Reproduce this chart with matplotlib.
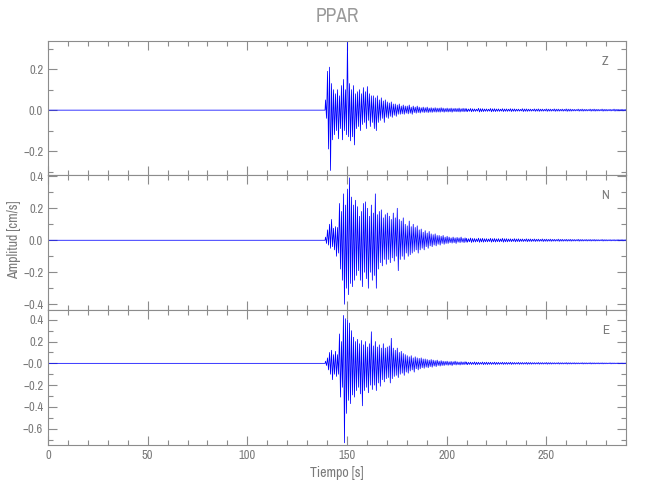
import numpy as np
import matplotlib
matplotlib.use("Agg")
import matplotlib.pyplot as plt
from matplotlib import font_manager
from matplotlib.ticker import MultipleLocator, FixedLocator

# ---------------- data (peak values per 1-s bin) -------------
title = "PPAR"
components = ["Z", "N", "E"]
t_start, t_onset, t_main_end, t_end = 0, 139, 210, 290

z_hi = [0.05, 0.19, 0.21, 0.13, 0.10, 0.08, 0.10, 0.07, 0.12, 0.15, 0.10, 0.34, 0.13, 0.10,
        0.12, 0.08, 0.09, 0.10, 0.08, 0.11, 0.09, 0.115, 0.08, 0.07, 0.07, 0.06, 0.07, 0.05,
        0.06, 0.045, 0.05, 0.04, 0.035, 0.04, 0.03, 0.03, 0.025, 0.03, 0.02, 0.025, 0.02,
        0.02, 0.025, 0.015, 0.02, 0.015, 0.02, 0.015, 0.012, 0.015, 0.012, 0.015, 0.01,
        0.012, 0.01, 0.012, 0.01, 0.01, 0.012, 0.01, 0.008, 0.01, 0.008, 0.01, 0.008, 0.009,
        0.008, 0.01, 0.007, 0.009, 0.008]
z_lo = [-0.04, -0.19, -0.295, -0.145, -0.12, -0.10, -0.14, -0.09, -0.145, -0.10, -0.12,
        -0.13, -0.15, -0.13, -0.17, -0.09, -0.08, -0.10, -0.07, -0.06, -0.09, -0.05, -0.08,
        -0.06, -0.09, -0.10, -0.06, -0.05, -0.04, -0.06, -0.035, -0.04, -0.03, -0.035,
        -0.025, -0.03, -0.02, -0.02, -0.018, -0.02, -0.015, -0.018, -0.015, -0.02, -0.012,
        -0.015, -0.012, -0.014, -0.01, -0.012, -0.01, -0.012, -0.01, -0.011, -0.009, -0.01,
        -0.009, -0.01, -0.008, -0.01, -0.008, -0.009, -0.008, -0.01, -0.007, -0.008, -0.008,
        -0.009, -0.007, -0.008, -0.007]
z_tail = [0.007, 0.008, 0.006, 0.009, 0.007, 0.006, 0.008, 0.007, 0.006, 0.007, 0.006,
          0.007, 0.006, 0.005, 0.007, 0.006, 0.005, 0.006, 0.006, 0.005, 0.006, 0.005,
          0.006, 0.005, 0.005, 0.006, 0.005, 0.004, 0.005, 0.005, 0.004, 0.005, 0.005,
          0.004, 0.005, 0.004, 0.004, 0.005, 0.004, 0.004, 0.004]

n_hi = [0.02, 0.065, 0.10, 0.13, 0.075, 0.085, 0.08, 0.23, 0.18, 0.29, 0.22, 0.32, 0.39,
        0.27, 0.22, 0.25, 0.21, 0.15, 0.18, 0.23, 0.24, 0.20, 0.15, 0.22, 0.17, 0.29, 0.16,
        0.18, 0.19, 0.14, 0.16, 0.17, 0.15, 0.13, 0.17, 0.14, 0.20, 0.13, 0.12, 0.14, 0.10,
        0.09, 0.12, 0.085, 0.10, 0.08, 0.09, 0.065, 0.07, 0.05, 0.06, 0.045, 0.055, 0.04,
        0.035, 0.04, 0.03, 0.03, 0.025, 0.03, 0.02, 0.025, 0.02, 0.015, 0.02, 0.015, 0.018,
        0.015, 0.02, 0.012, 0.015]
n_lo = [-0.02, -0.03, -0.05, -0.04, -0.06, -0.10, -0.08, -0.18, -0.25, -0.40, -0.30, -0.34,
        -0.27, -0.29, -0.25, -0.22, -0.19, -0.25, -0.29, -0.20, -0.24, -0.30, -0.20, -0.25,
        -0.22, -0.30, -0.18, -0.14, -0.16, -0.12, -0.15, -0.12, -0.14, -0.11, -0.13, -0.10,
        -0.19, -0.12, -0.10, -0.12, -0.08, -0.10, -0.09, -0.08, -0.07, -0.06, -0.08, -0.06,
        -0.05, -0.06, -0.04, -0.05, -0.035, -0.04, -0.03, -0.035, -0.025, -0.03, -0.02,
        -0.025, -0.02, -0.02, -0.015, -0.018, -0.015, -0.02, -0.012, -0.015, -0.012, -0.015,
        -0.012]
n_tail = [0.012, 0.014, 0.011, 0.013, 0.012, 0.01, 0.012, 0.011, 0.01, 0.012, 0.01, 0.009,
          0.01, 0.009, 0.008, 0.009, 0.008, 0.008, 0.007, 0.008, 0.007, 0.007, 0.006, 0.007,
          0.006, 0.006, 0.006, 0.005, 0.006, 0.005, 0.005, 0.005, 0.005, 0.004, 0.005, 0.004,
          0.004, 0.004, 0.004, 0.004, 0.004]

e_hi = [0.02, 0.05, 0.10, 0.12, 0.08, 0.11, 0.08, 0.27, 0.20, 0.44, 0.41, 0.40, 0.37, 0.30,
        0.24, 0.20, 0.22, 0.18, 0.21, 0.17, 0.20, 0.15, 0.18, 0.29, 0.16, 0.20, 0.15, 0.17,
        0.14, 0.18, 0.14, 0.15, 0.16, 0.23, 0.14, 0.12, 0.14, 0.10, 0.11, 0.09, 0.08, 0.07,
        0.06, 0.07, 0.05, 0.06, 0.05, 0.045, 0.05, 0.04, 0.04, 0.035, 0.03, 0.035, 0.03,
        0.025, 0.03, 0.02, 0.025, 0.02, 0.018, 0.02, 0.015, 0.018, 0.015, 0.02, 0.015, 0.012,
        0.015, 0.012, 0.015]
e_lo = [-0.02, -0.06, -0.10, -0.15, -0.10, -0.12, -0.10, -0.31, -0.22, -0.73, -0.46, -0.34,
        -0.37, -0.29, -0.31, -0.25, -0.22, -0.28, -0.39, -0.25, -0.22, -0.27, -0.20, -0.24,
        -0.20, -0.25, -0.18, -0.21, -0.15, -0.17, -0.14, -0.13, -0.18, -0.14, -0.12, -0.11,
        -0.13, -0.10, -0.09, -0.11, -0.08, -0.09, -0.07, -0.06, -0.08, -0.05, -0.06, -0.05,
        -0.04, -0.045, -0.035, -0.04, -0.03, -0.035, -0.025, -0.03, -0.02, -0.025, -0.02,
        -0.02, -0.015, -0.018, -0.015, -0.02, -0.012, -0.015, -0.012, -0.015, -0.012, -0.012,
        -0.01]
e_tail = [0.012, 0.011, 0.013, 0.01, 0.012, 0.011, 0.01, 0.011, 0.009, 0.01, 0.009, 0.01,
          0.008, 0.009, 0.008, 0.009, 0.008, 0.007, 0.008, 0.007, 0.008, 0.007, 0.006, 0.007,
          0.006, 0.007, 0.006, 0.006, 0.005, 0.006, 0.005, 0.006, 0.005, 0.005, 0.005, 0.004,
          0.005, 0.004, 0.004, 0.004, 0.004]

ylims = [(-0.317, 0.338), (-0.436, 0.408), (-0.75, 0.49)]
yticks = [[-0.2, 0.0, 0.2], [-0.4, -0.2, 0.0, 0.2, 0.4], [-0.6, -0.4, -0.2, 0.0, 0.2, 0.4]]
yticklabels = [["\u22120.2", "0.0", "0.2"],
               ["\u22120.4", "\u22120.2", "0.0", "0.2", "0.4"],
               ["\u22120.6", "\u22120.4", "\u22120.2", "\u22120.0", "0.2", "0.4"]]
xticks = [0, 50, 100, 150, 200, 250]
xlabel = "Tiempo [s]"
ylabel = "Amplitud [cm/s]"

# ---------------- build traces ----------------
def build_trace(hi, lo, tail):
    t, v = [t_start, t_onset], [0.0, 0.0]
    for i, (h, l) in enumerate(zip(hi, lo)):
        tt = t_onset + i
        t += [tt + 0.25, tt + 0.75]
        v += [h, l]
    for i, a in enumerate(tail):
        tt = t_main_end + 2 * i
        t += [tt, tt + 0.5, tt + 1.0, tt + 1.5]
        v += [a, -a, a * 0.8, -a * 0.8]
    return np.array(t), np.array(v)

traces = [build_trace(z_hi, z_lo, z_tail),
          build_trace(n_hi, n_lo, n_tail),
          build_trace(e_hi, e_lo, e_tail)]

# ---------------- font choice: thin / condensed if available ----------------
names = {f.name for f in font_manager.fontManager.ttflist}
cond = sorted(n for n in names if ("Narrow" in n or "Condensed" in n))
weight = "normal"
if cond:
    fam = [cond[0], "DejaVu Sans"]
elif "Roboto" in names:
    fam = ["Roboto", "DejaVu Sans"]
    weight = "light"
else:
    fam = ["DejaVu Sans"]
plt.rcParams["font.family"] = fam
plt.rcParams["font.weight"] = weight

gray = "#8c8c8c"
txtgray = "#7a7a7a"

fig = plt.figure(figsize=(6.5, 5.0), dpi=100)
left, right = 48 / 650, 626 / 650
tops = [41, 175, 310]
bots = [175, 310, 445]

axes = []
for k in range(3):
    y0 = 1 - bots[k] / 500
    h = (bots[k] - tops[k]) / 500
    ax = fig.add_axes([left, y0, right - left, h])
    axes.append(ax)
    t, v = traces[k]
    ax.plot(t, v, color="#0000ff", lw=0.55)
    ax.set_xlim(0, 290)
    ax.set_ylim(*ylims[k])
    ax.xaxis.set_major_locator(FixedLocator(xticks))
    ax.xaxis.set_minor_locator(MultipleLocator(10))
    ax.yaxis.set_major_locator(FixedLocator(yticks[k]))
    ax.set_yticklabels(yticklabels[k])
    ax.yaxis.set_minor_locator(MultipleLocator(0.1))
    ax.tick_params(which="both", direction="in", top=True, right=True, colors=gray,
                   labelcolor=txtgray, labelsize=9, width=0.8)
    ax.tick_params(which="major", length=6.5)
    ax.tick_params(which="minor", length=3.5)
    for s in ax.spines.values():
        s.set_color(gray)
        s.set_linewidth(0.8)
    if k < 2:
        ax.tick_params(labelbottom=False)
    ax.text(0.964, 0.85, components[k], transform=ax.transAxes, ha="center", va="center",
            color=txtgray, fontsize=9.5)

axes[2].set_xticklabels([str(x) for x in xticks])
axes[2].set_xlabel(xlabel, color=txtgray, fontsize=10, labelpad=4)
fig.text(0.5 * (left + right), 1 - 17 / 500, title, ha="center", va="center",
         color="#9a9a9a", fontsize=14)
fig.text(0.022, 0.52, ylabel, rotation=90, ha="center", va="center", color=txtgray,
         fontsize=10)

fig.savefig("out.png", dpi=100, facecolor="white")
